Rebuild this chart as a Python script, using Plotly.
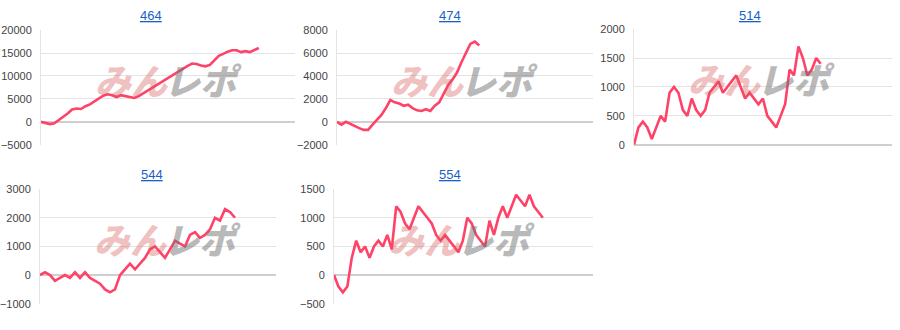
import plotly.graph_objects as go

# ---- data ----
titles = ["464", "474", "514", "544", "554"]

s464 = [0, -300, -500, -300, 400, 1100, 1800, 2700, 2900, 2800, 3400, 3800, 4500, 5000,
        5700, 6000, 5800, 5400, 5800, 5600, 5400, 5200, 5600, 6200, 6900, 7500, 8100,
        8700, 9200, 9800, 10400, 11000, 11600, 12200, 12700, 12600, 12300, 12100, 12400,
        13400, 14400, 14800, 15300, 15600, 15600, 15200, 15400, 15200, 15600, 16100]
s474 = [0, -250, 0, -200, -400, -550, -700, -700, -250, 200, 600, 1200, 1900, 1700, 1600,
        1400, 1500, 1200, 1000, 950, 1100, 950, 1400, 1700, 2400, 3200, 3700, 4300, 5200,
        6000, 6800, 7000, 6650]
s514 = [0, 300, 400, 300, 100, 300, 500, 400, 900, 1000, 900, 600, 500, 800, 600, 500, 600,
        900, 1000, 1100, 900, 1000, 1100, 1200, 1000, 800, 900, 800, 700, 800, 500, 400, 300,
        500, 700, 1300, 1200, 1700, 1500, 1200, 1300, 1500, 1400]
s544 = [0, 100, 0, -200, -100, 0, -100, 100, -100, 100, -100, -200, -300, -500, -600, -500,
        0, 200, 400, 200, 400, 600, 900, 1000, 800, 600, 900, 1200, 1100, 1000, 1400, 1500,
        1300, 1400, 1600, 2000, 1900, 2300, 2200, 2000]
s554 = [0, -200, -300, -200, 300, 600, 400, 500, 300, 500, 600, 500, 700, 450, 1200, 1100,
        900, 800, 1000, 1200, 1100, 1000, 900, 700, 600, 700, 600, 500, 400, 600, 1000, 900,
        700, 600, 500, 950, 700, 1000, 1200, 1000, 1200, 1400, 1300, 1200, 1400, 1200, 1100,
        1000]
series = [s464, s474, s514, s544, s554]

y_ranges = [(-5000, 20000), (-2000, 8000), (0, 2000), (-1000, 3000), (-500, 1500)]
y_dticks = [5000, 2000, 500, 1000, 500]
x_extent = [57.15, 57.6, 58.05, 47.2, 58.3]

# ---- layout (pixel boxes) ----
W, H = 900, 330
boxes = [(41, 295, 25, 144), (337, 593, 25, 144), (634, 892, 24, 144),
         (40, 276, 190, 309), (334, 593, 190, 309)]
title_centers = [(151, 10), (450, 10), (750, 10), (152, 175), (450, 175)]

LINE = "#ff4267"
PINK = "rgba(215,90,90,0.38)"
GRAY = "rgba(115,115,115,0.5)"
fig = go.Figure()
annotations = []
for i, (vals, (x0, x1, y0, y1)) in enumerate(zip(series, boxes)):
    n = i + 1
    xa = "x" if n == 1 else f"x{n}"
    ya = "y" if n == 1 else f"y{n}"
    fig.add_trace(go.Scatter(x=list(range(len(vals))), y=vals, mode="lines",
                             line=dict(color=LINE, width=2.6), xaxis=xa, yaxis=ya,
                             showlegend=False, hoverinfo="skip"))
    xk = "xaxis" if n == 1 else f"xaxis{n}"
    yk = "yaxis" if n == 1 else f"yaxis{n}"
    fig.layout[xk] = dict(domain=[x0 / W, x1 / W], range=[0, x_extent[i]],
                          showgrid=False, zeroline=False, showticklabels=False,
                          showline=False, anchor=ya, fixedrange=True)
    lo, hi = y_ranges[i]
    fig.layout[yk] = dict(domain=[1 - y1 / H, 1 - y0 / H], range=[lo, hi],
                          dtick=y_dticks[i], tick0=0, tickformat="d",
                          showgrid=True, gridcolor="#e4e4e4", gridwidth=1,
                          zeroline=True, zerolinecolor="#cfcfcf", zerolinewidth=1.5,
                          showline=True, linecolor="#e4e4e4", linewidth=1,
                          tickfont=dict(family="Liberation Sans, Arial", size=11,
                                        color="#444444"),
                          ticks="", ticklabelstandoff=6, anchor=xa, fixedrange=True)
    cx, cy = title_centers[i]
    annotations.append(dict(text=f"<u>{titles[i]}</u>", x=cx / W, y=1 - cy / H,
                            xref="paper", yref="paper", showarrow=False,
                            xanchor="center", yanchor="middle",
                            font=dict(family="Liberation Sans, Arial", size=13,
                                      color="#1a5fc8")))
    # watermark (two parts)
    wy = 1 - (y0 + 51) / H
    for txt, col, dx in (("みん", PINK, 91), ("レポ", GRAY, 162)):
        annotations.append(dict(
            text=txt, x=(x0 + dx) / W, y=wy, xref="paper", yref="paper",
            showarrow=False, xanchor="center", yanchor="middle",
            font=dict(family="Noto Sans CJK JP", size=36, weight=900,
                      style="italic", color=col)))

fig.update_layout(width=W, height=H, margin=dict(l=0, r=0, t=0, b=0),
                  paper_bgcolor="white", plot_bgcolor="white",
                  annotations=annotations)
fig.write_html("out.html")
